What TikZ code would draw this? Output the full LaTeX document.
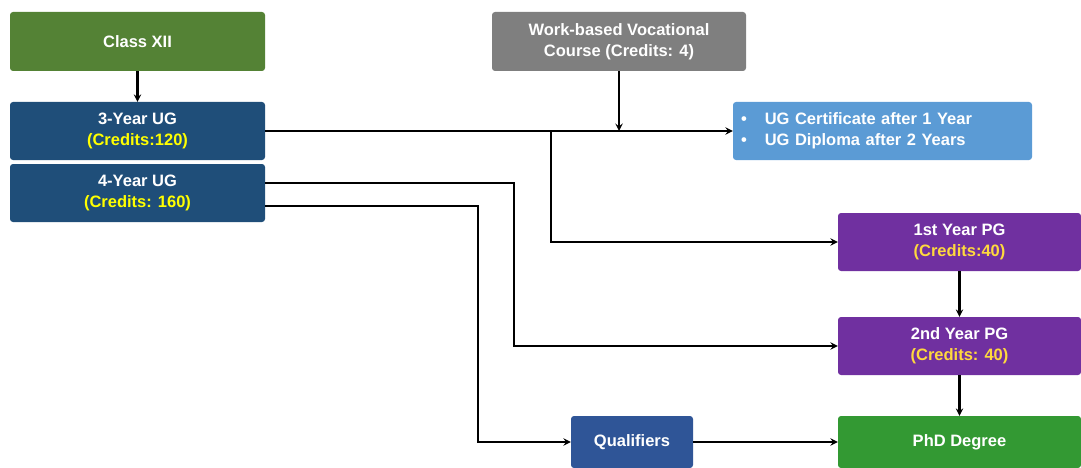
\documentclass[tikz,border=0pt]{standalone}
\usepackage{fontspec}
\setmainfont{Liberation Sans}
\usetikzlibrary{arrows}

\definecolor{classgreen}{HTML}{548235}
\definecolor{ugblue}{HTML}{1F4E79}
\definecolor{vocgray}{HTML}{7F7F7F}
\definecolor{certblue}{HTML}{5B9BD5}
\definecolor{pgpurple}{HTML}{7030A0}
\definecolor{qualblue}{HTML}{2F5597}
\definecolor{phdgreen}{HTML}{339933}
\definecolor{credyellow}{HTML}{FFFF00}
\definecolor{pgyellow}{HTML}{FFD93D}

\tikzset{
	every box/.style={rounded corners=3pt, align=center, text=white,
		font=\fontsize{16.5}{21}\selectfont\bfseries, inner sep=0pt},
	box class/.style={fill=classgreen, minimum width=255, minimum height=59},
	box ug/.style={fill=ugblue, minimum width=255, minimum height=58},
	box voc/.style={fill=vocgray, minimum width=254, minimum height=59},
	box cert/.style={fill=certblue, minimum width=299, minimum height=58},
	box pg/.style={fill=pgpurple, minimum width=243, minimum height=58},
	box qual/.style={fill=qualblue, minimum width=122, minimum height=52},
	box phd/.style={fill=phdgreen, minimum width=243, minimum height=52},
	link/.style={->, line width=2.2pt}
}

\begin{document}
\begin{tikzpicture}[x=1pt, y=-1pt, >=stealth]
	\useasboundingbox (0,0) rectangle (1081,468);
	
	\node [every box, box class] (class) at (137.5,41.5) {Class XII};
	\node [every box, box ug] (ug3) at (137.5,131) {3-Year UG\\{\color{credyellow}(Credits:120)}};
	\node [every box, box ug] (ug4) at (137.5,193) {4-Year UG\\{\color{credyellow}(Credits: 160)}};
	\node [every box, box voc] (voc) at (619,41.5) {Work-based Vocational\\Course (Credits: 4)};
	\node [every box, box cert, align=left, text width=283, inner xsep=8pt] (cert) at (882.5,131)
		{\textbullet\hspace{18pt}UG Certificate after 1 Year\\
		 \textbullet\hspace{18pt}UG Diploma after 2 Years};
	
	\foreach \m/\l/\c/\y in {1/1st Year PG/(Credits:40)/242, 2/2nd Year PG/(Credits: 40)/346}
	\node [every box, box pg] (pg\m) at (959.5,\y) {\l\\{\color{pgyellow}\c}};
	
	\node [every box, box qual] (qual) at (632,442) {Qualifiers};
	\node [every box, box phd] (phd) at (959.5,442) {PhD Degree};
	
	\coordinate (split) at (551,131);
	
	\draw [link] (class) -- (ug3);
	\draw [link] (ug3) -- (cert);
	\draw [link] (voc) -- (voc |- cert.west);
	\draw [link] (split) |- (pg1);
	\draw [link] ([yshift=10pt]ug4.east) -- ++(249,0) |- (pg2);
	\draw [link] ([yshift=-13pt]ug4.east) -- ++(213,0) |- (qual);
	\draw [link] (qual) -- (phd);
	
	\foreach \a/\b in {pg1/pg2, pg2/phd}
	\draw [link] (\a) -- (\b);
	
\end{tikzpicture}
\end{document}
